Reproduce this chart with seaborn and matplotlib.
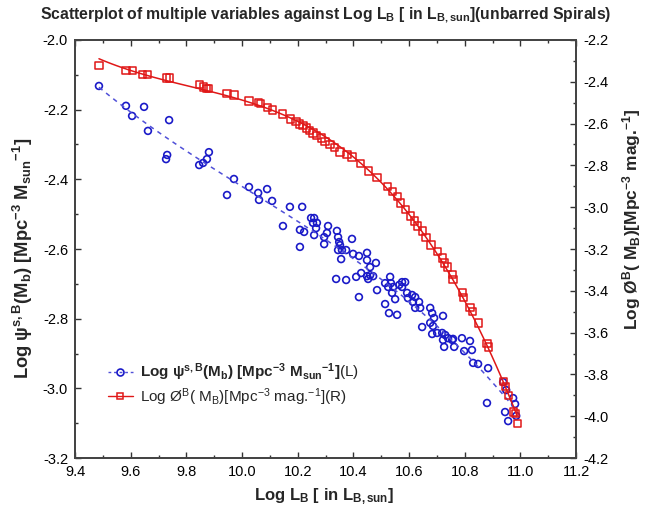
import numpy as np
import pandas as pd
import seaborn as sns
from matplotlib import pyplot as plt
from matplotlib.lines import Line2D
from matplotlib.ticker import MultipleLocator, FormatStrFormatter

sns.set_theme(style="white")
plt.rcParams["font.family"] = ["Liberation Sans", "DejaVu Sans"]
plt.rcParams["mathtext.fontset"] = "custom"
plt.rcParams["mathtext.rm"] = "Liberation Sans"
plt.rcParams["mathtext.bf"] = "Liberation Sans:bold"
plt.rcParams["mathtext.it"] = "Liberation Sans:italic"
plt.rcParams["mathtext.default"] = "regular"
plt.rcParams["axes.unicode_minus"] = False

# Log psi (left axis), blue circles
psi_logl = [
    9.486, 9.583, 9.605, 9.648, 9.662, 9.738, 9.731, 9.727, 9.881, 9.874,
    9.860, 9.846, 9.971, 9.946, 10.025, 10.058, 10.090, 10.061, 10.108, 10.172,
    10.216, 10.147, 10.208, 10.223, 10.208, 10.248, 10.259, 10.255, 10.269, 10.266,
    10.259, 10.295, 10.309, 10.305, 10.295, 10.341, 10.345, 10.349, 10.352, 10.345,
    10.359, 10.374, 10.356, 10.395, 10.399, 10.420, 10.449, 10.449, 10.460, 10.481,
    10.428, 10.410, 10.449, 10.460, 10.471, 10.453, 10.338, 10.374, 10.420, 10.485,
    10.514, 10.532, 10.535, 10.543, 10.525, 10.539, 10.550, 10.514, 10.528, 10.557,
    10.565, 10.575, 10.586, 10.575, 10.593, 10.611, 10.622, 10.596, 10.614, 10.636,
    10.622, 10.640, 10.676, 10.683, 10.690, 10.722, 10.676, 10.686, 10.647, 10.683,
    10.701, 10.719, 10.730, 10.722, 10.726, 10.740, 10.755, 10.758, 10.762, 10.790,
    10.798, 10.819, 10.826, 10.830, 10.848, 10.884, 10.880, 10.938, 10.949, 10.974,
    10.981, 10.945, 10.956, 10.985,
]
psi_val = [
    -2.132, -2.189, -2.218, -2.192, -2.261, -2.230, -2.330, -2.342, -2.322, -2.342,
    -2.353, -2.359, -2.399, -2.445, -2.422, -2.439, -2.428, -2.459, -2.462, -2.479,
    -2.479, -2.534, -2.545, -2.551, -2.594, -2.511, -2.511, -2.525, -2.525, -2.540,
    -2.560, -2.566, -2.534, -2.554, -2.586, -2.548, -2.566, -2.580, -2.589, -2.603,
    -2.603, -2.603, -2.629, -2.571, -2.614, -2.620, -2.611, -2.632, -2.652, -2.640,
    -2.669, -2.680, -2.678, -2.675, -2.678, -2.686, -2.686, -2.689, -2.738, -2.718,
    -2.698, -2.680, -2.698, -2.709, -2.709, -2.726, -2.744, -2.758, -2.784, -2.789,
    -2.703, -2.695, -2.695, -2.709, -2.726, -2.732, -2.738, -2.741, -2.752, -2.752,
    -2.769, -2.769, -2.769, -2.784, -2.798, -2.792, -2.812, -2.821, -2.824, -2.844,
    -2.841, -2.841, -2.847, -2.861, -2.881, -2.856, -2.861, -2.858, -2.881, -2.856,
    -2.893, -2.864, -2.890, -2.927, -2.930, -2.942, -3.042, -2.982, -3.005, -3.028,
    -3.045, -3.068, -3.094, -3.079,
]

# Log phi (right axis), red squares
phi_logl = [
    9.486, 9.583, 9.605, 9.644, 9.662, 9.727, 9.738, 9.846, 9.860, 9.871,
    9.881, 9.946, 9.971, 10.025, 10.058, 10.065, 10.090, 10.108, 10.144, 10.173,
    10.194, 10.208, 10.219, 10.230, 10.244, 10.255, 10.269, 10.284, 10.298, 10.316,
    10.331, 10.352, 10.377, 10.395, 10.424, 10.453, 10.485, 10.521, 10.539, 10.557,
    10.568, 10.586, 10.604, 10.618, 10.632, 10.647, 10.661, 10.679, 10.701, 10.719,
    10.729, 10.737, 10.755, 10.758, 10.791, 10.794, 10.819, 10.827, 10.848, 10.880,
    10.884, 10.938, 10.945, 10.956, 10.974, 10.981, 10.988,
]
phi_val = [
    -2.324, -2.344, -2.348, -2.363, -2.367, -2.382, -2.382, -2.415, -2.425, -2.430,
    -2.430, -2.454, -2.463, -2.492, -2.501, -2.506, -2.521, -2.535, -2.554, -2.578,
    -2.588, -2.602, -2.611, -2.621, -2.631, -2.645, -2.655, -2.669, -2.684, -2.702,
    -2.716, -2.736, -2.750, -2.760, -2.789, -2.827, -2.856, -2.903, -2.927, -2.951,
    -2.980, -3.013, -3.042, -3.066, -3.090, -3.114, -3.143, -3.181, -3.214, -3.243,
    -3.267, -3.286, -3.324, -3.348, -3.406, -3.430, -3.482, -3.501, -3.554, -3.650,
    -3.669, -3.836, -3.860, -3.899, -3.980, -3.985, -4.033,
]

blue = "#1a1ac8"
blue_line = "#5050d8"
red = "#e01818"

psi = pd.DataFrame({"logl": psi_logl, "val": psi_val})
phi = pd.DataFrame({"logl": phi_logl, "val": phi_val})

fig = plt.figure(figsize=(6.49, 5.18), dpi=100)
ax = fig.add_axes([0.1156, 0.1158, 0.772, 0.807])
ax2 = ax.twinx()

# Left axis: psi
sns.regplot(data=psi, x="logl", y="val", order=3, ci=None, scatter=False, ax=ax,
            line_kws=dict(color=blue_line, lw=1.1, ls=(0, (3, 3))))
sns.scatterplot(data=psi, x="logl", y="val", ax=ax, marker="o", s=24,
                facecolors="none", edgecolor=blue, linewidth=1.2)

# Right axis: phi
sns.regplot(data=phi, x="logl", y="val", order=3, ci=None, scatter=False, ax=ax2,
            line_kws=dict(color=red, lw=1.1))
sns.scatterplot(data=phi, x="logl", y="val", ax=ax2, marker="s", s=26,
                facecolors="none", edgecolor=red, linewidth=1.1)

ax.set_xlim(9.4, 11.2)
ax.set_ylim(-3.2, -2.0)
ax2.set_ylim(-4.2, -2.2)
ax.set_xlabel("")
ax.set_ylabel("")
ax2.set_ylabel("")

ax.xaxis.set_major_locator(MultipleLocator(0.2))
ax.xaxis.set_minor_locator(MultipleLocator(0.1))
ax.xaxis.set_major_formatter(FormatStrFormatter("%.1f"))
ax.yaxis.set_major_locator(MultipleLocator(0.2))
ax.yaxis.set_minor_locator(MultipleLocator(0.1))
ax.yaxis.set_major_formatter(FormatStrFormatter("%.1f"))
ax2.yaxis.set_major_locator(MultipleLocator(0.2))
ax2.yaxis.set_minor_locator(MultipleLocator(0.1))
ax2.yaxis.set_major_formatter(FormatStrFormatter("%.1f"))

ax.tick_params(axis="x", which="both", direction="in", top=True, bottom=True,
               labelsize=10.5, pad=5, colors="#333333", labelcolor="black")
ax.tick_params(axis="y", which="both", direction="in", left=True, right=False,
               labelsize=10.5, pad=5, colors="#333333", labelcolor="black")
ax2.tick_params(axis="y", which="both", direction="in", right=True, left=False,
                labelsize=10.5, pad=5, colors="#333333", labelcolor="black")
for a in (ax, ax2):
    a.tick_params(which="major", length=4, width=1)
    a.tick_params(which="minor", length=2, width=1)
    for sp in a.spines.values():
        sp.set_color("#444444")
        sp.set_linewidth(1.3)

# Texts
fig.text(0.5015, 0.971,
         r"Scatterplot of multiple variables against "
         r"$\mathbf{Log\ L_B\ [\ in\ L_{B,sun}]}$(unbarred Spirals)",
         ha="center", va="center", fontsize=11.3, fontweight="bold")
fig.text(0.5, 1 - 497 / 518, r"Log L$_B$ [ in L$_{B,sun}$]",
         ha="center", va="center", fontsize=12, fontweight="bold")
fig.text(23 / 649, 1 - 258 / 518,
         r"Log ψ$^{s,B}$(M$_b$) [Mpc$^{-3}$ M$_{sun}{}^{-1}$]",
         ha="center", va="center", rotation=90, fontsize=13.2, fontweight="bold")
fig.text(632 / 649, 1 - 219 / 518,
         r"Log Ø$^B$( M$_B$)[Mpc$^{-3}$ mag.$^{-1}$]",
         ha="center", va="center", rotation=90, fontsize=12.5, fontweight="bold")

handles = [
    Line2D([], [], color=blue_line, ls=(0, (2, 2)), lw=1, marker="o", ms=5,
           mfc="none", mec=blue, mew=1.2),
    Line2D([], [], color=red, ls="-", lw=1, marker="s", ms=5,
           mfc="none", mec=red, mew=1.1),
]
labels = [
    r"$\mathbf{Log\ ψ^{s,B}(M_b)\ [Mpc^{-3}\ M_{sun}{}^{-1}]}$(L)",
    r"Log Ø$^B$( M$_B$)[Mpc$^{-3}$ mag.$^{-1}$](R)",
]
ax2.legend(handles, labels, loc="lower left", bbox_to_anchor=(0.045, 0.095),
           frameon=False, fontsize=11, handlelength=1.6, handletextpad=0.5,
           labelspacing=0.2, borderpad=0.2)

fig.savefig("out.png", dpi=100)
